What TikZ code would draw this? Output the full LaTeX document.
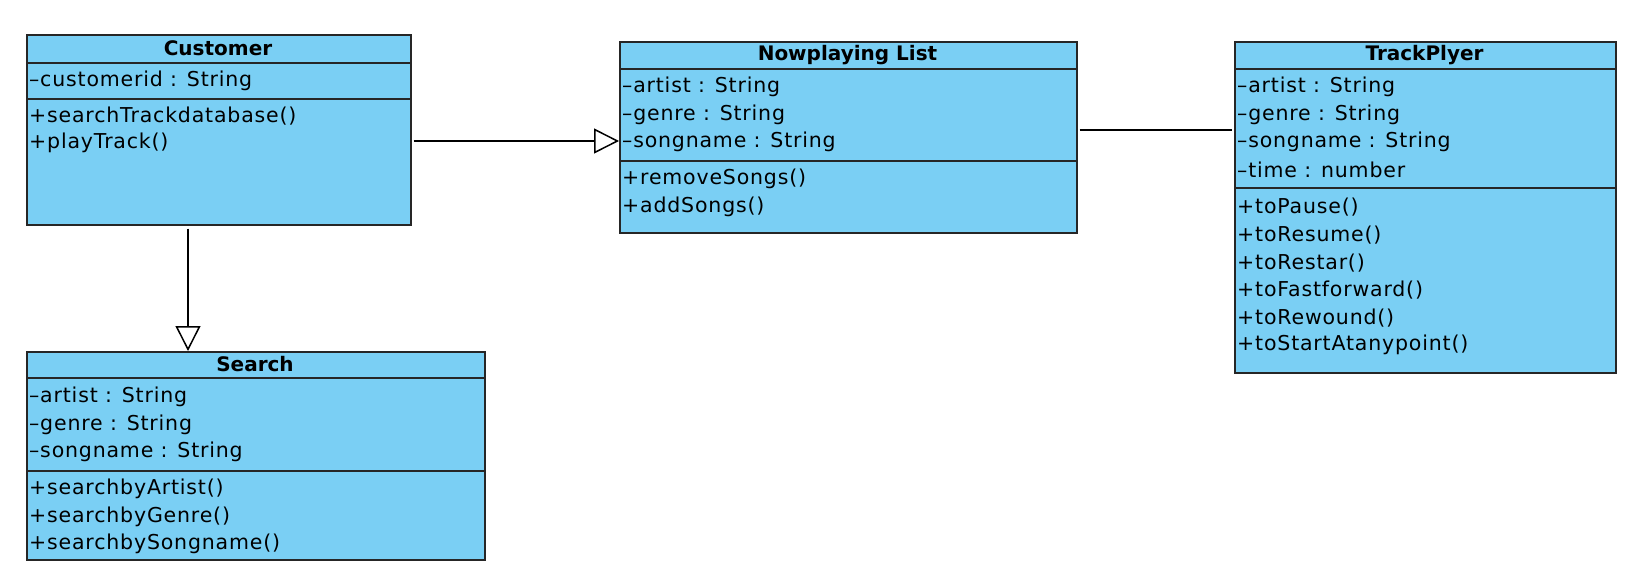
\documentclass[tikz,border=0pt]{standalone}
\usepackage{fontspec}
\setmainfont{DejaVu Sans}
\newfontfamily\umlfont[LetterSpace=4]{DejaVu Sans}
\usetikzlibrary{arrows.meta}
\definecolor{umlblue}{RGB}{122,207,244}
\begin{document}
\begin{tikzpicture}[x=1pt,y=-1pt,
  cls/.style={draw=black!85, fill=umlblue, line width=1.6pt, rectangle, anchor=north west, inner sep=0pt},
  sep/.style={draw=black!85, line width=1.6pt},
  ttl/.style={font=\fontsize{20}{22}\selectfont\bfseries, inner sep=0pt, anchor=center},
  txt/.style={font=\umlfont\fontsize{20.5}{22}\selectfont, inner sep=0pt, anchor=west},
  gen/.style={line width=1.5pt, -{Triangle[open, length=25pt, width=25pt, line width=1.5pt]}},
  assoc/.style={line width=1.5pt}]
\useasboundingbox (0,0) rectangle (1636,578);
% Customer
\node[cls, minimum width=384pt, minimum height=190pt] (cust) at (26,34) {};
\draw[sep] (26,63) -- (410,63);
\draw[sep] (26,99) -- (410,99);
\node[ttl] (custT) at (218,48) {Customer};
\node[txt] (cust1) at (29,81) {–customerid : String};
\node[txt] (cust2) at (29,116) {+searchTrackdatabase()};
\node[txt] (cust3) at (29,143) {+playTrack()};
% Nowplaying List
\node[cls, minimum width=457pt, minimum height=191pt] (np) at (619,41) {};
\draw[sep] (619,69) -- (1076,69);
\draw[sep] (619,161) -- (1076,161);
\node[ttl] (npT) at (847.5,55) {Nowplaying List};
\node[txt] (np1) at (622,87) {–artist : String};
\node[txt] (np2) at (622,115) {–genre : String};
\node[txt] (np3) at (622,142) {–songname : String};
\node[txt] (np4) at (622,179) {+removeSongs()};
\node[txt] (np5) at (622,207) {+addSongs()};
% TrackPlyer
\node[cls, minimum width=381pt, minimum height=331pt] (tp) at (1234,41) {};
\draw[sep] (1234,69) -- (1615,69);
\draw[sep] (1234,188) -- (1615,188);
\node[ttl] (tpT) at (1424.5,55) {TrackPlyer};
\node[txt] (tp1) at (1237,87) {–artist : String};
\node[txt] (tp2) at (1237,115) {–genre : String};
\node[txt] (tp3) at (1237,142) {–songname : String};
\node[txt] (tp4) at (1237,170) {–time : number};
\node[txt] (tp5) at (1237,207) {+toPause()};
\node[txt] (tp6) at (1237,235) {+toResume()};
\node[txt] (tp7) at (1237,263) {+toRestar()};
\node[txt] (tp8) at (1237,290) {+toFastforward()};
\node[txt] (tp9) at (1237,318) {+toRewound()};
\node[txt] (tp10) at (1237,345) {+toStartAtanypoint()};
% Search
\node[cls, minimum width=458pt, minimum height=208pt] (srch) at (26,351) {};
\draw[sep] (26,378) -- (484,378);
\draw[sep] (26,471) -- (484,471);
\node[ttl] (srchT) at (255,364) {Search};
\node[txt] (s1) at (29,397) {–artist : String};
\node[txt] (s2) at (29,425) {–genre : String};
\node[txt] (s3) at (29,452) {–songname : String};
\node[txt] (s4) at (29,489) {+searchbyArtist()};
\node[txt] (s5) at (29,517) {+searchbyGenre()};
\node[txt] (s6) at (29,544) {+searchbySongname()};
% connectors
\draw[gen] ([xshift=2pt]cust.east |- 0,141) -- (np.west |- 0,141);
\draw[gen] ([yshift=-3pt]cust.south -| 188,0) -- (srch.north -| 188,0);
\draw[assoc] ([xshift=2pt]np.east |- 0,130) -- ([xshift=-2pt]tp.west |- 0,130);
\end{tikzpicture}
\end{document}
